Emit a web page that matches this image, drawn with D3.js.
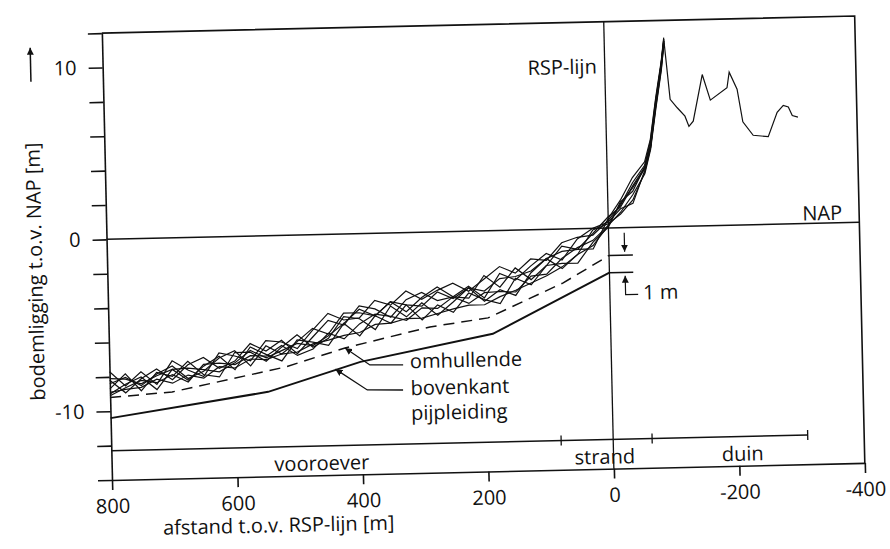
<!DOCTYPE html>
<html>
<head>
<meta charset="utf-8">
<script src="https://cdn.jsdelivr.net/npm/d3@7"></script>
<style>
  body { margin: 0; background: #fff; }
  svg { display: block; }
  text { font-family: "Open Sans", sans-serif; font-size: 20px; fill: #111; }
</style>
</head>
<body>
<svg id="chart" width="890" height="549"></svg>
<script>
// distances from the RSP line (m), positive seaward
const stations = [800, 775, 750, 725, 700, 675, 650, 625, 600, 575, 550, 525, 500, 475, 450, 425, 400,
  375, 350, 325, 300, 275, 250, 225, 200, 175, 150, 125, 100, 75, 50, 25, 0, -20, -40, -60, -70, -80, -90, -95];

// measured bottom profiles (m t.o.v. NAP)
const profileA = [-7.7, -8.55, -7.75, -8.5, -7.15, -7.7, -8.1, -6.75, -6.95, -7.25, -6.1, -6.2, -6.6, -5.55, -4.6, -5.0, -4.9,
  -3.9, -4.2, -3.4, -3.9, -3.4, -3.0, -3.5, -2.8, -2.1, -2.5, -1.7, -1.8, -0.8, -0.5, -0.4, 0.45, 1.3, 2.6, 3.6, 5.0, 7.4, 9.5, 10.9];
const profileB = [-8.7, -7.85, -8.85, -7.8, -8.05, -7.2, -8.0, -8.15, -6.75, -6.75, -7.3, -6.5, -5.8, -6.55, -6.05, -4.8, -4.95,
  -5.6, -4.25, -4.9, -4.1, -4.85, -4.1, -3.3, -4.1, -3.45, -3.8, -2.5, -1.7, -2.3, -1.5, -0.1, 0.25, 0.8, 1.6, 3.2, 4.6, 7.0, 9.2, 10.6];
const profileC = [-9.0, -8.45, -8.05, -8.8, -7.65, -8.3, -7.5, -6.95, -7.75, -6.45, -6.9, -7.3, -6.1, -6.25, -6.45, -5.2, -5.95,
  -4.8, -5.25, -4.2, -5.1, -4.25, -4.7, -3.6, -4.0, -4.25, -2.8, -3.2, -2.1, -2.0, -2.0, -0.8, 0.05, 1.5, 2.1, 3.5, 4.8, 7.3, 9.4, 10.8];
const profileD = [-8.9, -8.75, -8.65, -8.2, -8.45, -8.0, -8.2, -7.55, -7.65, -7.15, -7.2, -6.9, -6.8, -6.35, -6.15, -5.9, -5.75,
  -5.3, -5.25, -5.0, -5.0, -4.75, -4.5, -4.3, -4.3, -3.85, -3.5, -3.1, -2.7, -2.2, -1.5, -1.0, 0.15, 0.9, 1.9, 3.1, 4.5, 6.9, 9.1, 10.7];
const profileE = [-8.2, -8.95, -8.15, -7.6, -8.25, -7.4, -7.0, -7.65, -7.25, -6.25, -6.7, -6.1, -6.9, -5.95, -5.0, -5.3, -4.2,
  -4.4, -4.9, -3.9, -3.5, -4.0, -3.8, -3.9, -2.6, -3.3, -2.2, -2.9, -2.1, -1.0, -1.2, -1.2, 0.55, 1.6, 2.9, 3.8, 5.1, 7.5, 9.6, 11.0];
const profileF = [-8.4, -8.05, -8.55, -7.9, -7.45, -8.2, -7.8, -7.05, -6.65, -7.55, -6.4, -6.9, -6.2, -5.45, -5.8, -4.6, -4.6,
  -4.8, -4.0, -4.6, -3.8, -3.2, -3.8, -3.2, -3.9, -2.5, -2.9, -2.1, -1.4, -1.8, -0.6, 0.0, 0.35, 1.1, 1.4, 3.3, 4.7, 7.1, 9.3, 10.8];
const profileG = [-9.1, -8.65, -8.25, -8.4, -7.95, -8.4, -7.4, -7.35, -7.45, -6.95, -7.0, -6.4, -7.0, -6.65, -5.75, -6.1, -5.25,
  -4.7, -4.85, -5.1, -4.4, -4.45, -3.8, -4.2, -3.6, -3.55, -3.6, -2.7, -2.6, -1.7, -1.1, -0.7, 0.15, 1.4, 2.3, 3.4, 4.6, 7.2, 9.4, 10.7];
const profileH = [-8.1, -8.15, -8.45, -8.0, -7.65, -7.6, -7.7, -7.85, -7.35, -6.65, -7.1, -6.7, -6.3, -6.45, -5.9, -5.2, -4.4,
  -4.8, -4.0, -4.2, -4.3, -3.5, -3.9, -3.3, -3.5, -2.8, -2.7, -2.4, -1.7, -1.3, -1.2, -0.3, 0.65, 1.2, 2.4, 3.5, 4.7, 7.2, 9.5, 10.9];
const profiles = [profileA, profileB, profileC, profileD, profileE, profileF, profileG, profileH];

// profile H continues over the dunes
const duneX = [-103, -114, -126, -132, -139, -155, -167, -194, -198, -210, -218, -234, -258, -273, -283, -291, -297, -306];
const duneY = [7.4, 6.9, 6.4, 5.8, 6.1, 8.8, 7.3, 8.0, 8.9, 7.9, 6.0, 5.2, 5.1, 6.5, 6.9, 6.8, 6.3, 6.2];

// envelope (omhullende) and top of pipeline (bovenkant pijpleiding)
const envelopeX = [800, 701, 520, 424, 288, 195, 74, 0];
const envelopeY = [-9.2, -8.96, -7.66, -6.63, -5.52, -5.07, -3.13, -1.6];
const pipeX = [800, 548, 400, 188, 0];
const pipeY = [-10.4, -9.08, -7.46, -6.0, -2.6];

const xTicks = [800, 600, 400, 200, 0, -200, -400];
const xTickLabels = ["800", "600", "400", "200", "0", "-200", "-400"];
const yTicks = [-14, -12, -10, -8, -6, -4, -2, 0, 2, 4, 6, 8, 10, 12];
const yTickLabels = { "10": "10", "0": "0", "-10": "-10" };

const zoneBounds = [800, 83, -62, -310];
const zoneNames = ["vooroever", "strand", "duin"];
const zoneLabelX = [465, 14, -206];

const mLeft = 112, mRight = 865, mTop = 33, mBottom = 480;

const x = d3.scaleLinear().domain([800, -400]).range([mLeft, mRight]);
const y = d3.scaleLinear().domain([-14, 12]).range([mBottom, mTop]);

const svg = d3.select("#chart");

svg.append("defs").append("marker")
  .attr("id", "head")
  .attr("viewBox", "0 0 10 10")
  .attr("refX", 10).attr("refY", 5)
  .attr("markerWidth", 7).attr("markerHeight", 7)
  .attr("markerUnits", "userSpaceOnUse")
  .attr("orient", "auto")
  .append("path")
  .attr("d", "M0,0 L10,5 L0,10 Z")
  .attr("fill", "#111");

// the scan is tilted a little
const g = svg.append("g").attr("transform", `rotate(-1.3, ${mLeft}, ${mBottom})`);

// axes
const yAxis = g.append("g")
  .attr("transform", `translate(${mLeft},0)`)
  .call(d3.axisLeft(y).tickValues(yTicks).tickSize(14).tickSizeOuter(0).tickPadding(12)
    .tickFormat((d) => yTickLabels[d] || ""));
const xAxis = g.append("g")
  .attr("transform", `translate(0,${mBottom})`)
  .call(d3.axisBottom(x).tickValues(xTicks).tickSize(10).tickSizeOuter(0).tickPadding(9)
    .tickFormat((d, i) => xTickLabels[i]));

[yAxis, xAxis].forEach((a) => {
  a.selectAll("path, line").attr("stroke", "#111").attr("stroke-width", 1.6);
  a.selectAll("text").attr("font-size", 20).attr("font-family", "'Open Sans', sans-serif").attr("fill", "#111");
});

// frame top and right
g.append("path")
  .attr("d", d3.line()([[x(800), y(12)], [x(-400), y(12)], [x(-400), y(-14)]]))
  .attr("fill", "none").attr("stroke", "#111").attr("stroke-width", 1.6);

// NAP line and RSP line
g.append("line")
  .attr("x1", x(800)).attr("x2", x(-400)).attr("y1", y(0)).attr("y2", y(0))
  .attr("stroke", "#111").attr("stroke-width", 1.5);
g.append("line")
  .attr("x1", x(0)).attr("x2", x(0)).attr("y1", y(12)).attr("y2", y(-14))
  .attr("stroke", "#111").attr("stroke-width", 1.3);

// zones
g.append("line")
  .attr("x1", x(zoneBounds[0])).attr("x2", x(zoneBounds[zoneBounds.length - 1]))
  .attr("y1", y(-12.3)).attr("y2", y(-12.3))
  .attr("stroke", "#111").attr("stroke-width", 1.5);
g.selectAll(".zonetick")
  .data(zoneBounds.slice(1))
  .join("line")
  .attr("class", "zonetick")
  .attr("x1", (d) => x(d)).attr("x2", (d) => x(d))
  .attr("y1", y(-12.3) - 5).attr("y2", y(-12.3) + 5)
  .attr("stroke", "#111").attr("stroke-width", 1.3);
g.selectAll(".zonelabel")
  .data(zoneNames)
  .join("text")
  .attr("class", "zonelabel")
  .attr("x", (d, i) => x(zoneLabelX[i]))
  .attr("y", mBottom - 5)
  .attr("text-anchor", "middle")
  .text((d) => d);

// profiles
const line = d3.line().x((d) => x(d[0])).y((d) => y(d[1]));
g.selectAll(".profile")
  .data(profiles.map((p, k) => {
    const pts = stations.map((s, i) => [s, p[i]]);
    if (k === profiles.length - 1) duneX.forEach((s, i) => pts.push([s, duneY[i]]));
    return pts;
  }))
  .join("path")
  .attr("class", "profile")
  .attr("d", line)
  .attr("fill", "none")
  .attr("stroke", "#111")
  .attr("stroke-width", 1.2);

g.append("path")
  .attr("d", line(envelopeX.map((d, i) => [d, envelopeY[i]])))
  .attr("fill", "none").attr("stroke", "#111").attr("stroke-width", 1.5)
  .attr("stroke-dasharray", "11,7");
g.append("path")
  .attr("d", line(pipeX.map((d, i) => [d, pipeY[i]])))
  .attr("fill", "none").attr("stroke", "#111").attr("stroke-width", 2);

// 1 m marker
const markerX = [0, -38];
[envelopeY[envelopeY.length - 1], pipeY[pipeY.length - 1]].forEach((v) => {
  g.append("line")
    .attr("x1", x(markerX[0])).attr("x2", x(markerX[1])).attr("y1", y(v)).attr("y2", y(v))
    .attr("stroke", "#111").attr("stroke-width", 1.5);
});
g.append("line")
  .attr("x1", x(-25)).attr("x2", x(-25)).attr("y1", y(-0.3)).attr("y2", y(-1.4))
  .attr("stroke", "#111").attr("stroke-width", 1.2).attr("marker-end", "url(#head)");
g.append("path")
  .attr("d", line([[-45, -3.9], [-25, -3.9], [-25, -2.8]]))
  .attr("fill", "none").attr("stroke", "#111").attr("stroke-width", 1.2).attr("marker-end", "url(#head)");
g.append("text").attr("x", x(-53)).attr("y", y(-4.2)).text("1 m");

// callouts
const leaderEnvelope = [[332, -7.69], [385, -7.65], [424, -6.63]];
const leaderPipe = [[333, -9.15], [390, -9.1], [440, -7.85]];
[leaderEnvelope, leaderPipe].forEach((pts) => {
  g.append("path")
    .attr("d", line(pts))
    .attr("fill", "none").attr("stroke", "#111").attr("stroke-width", 1.3)
    .attr("marker-end", "url(#head)");
});
const callouts = ["omhullende", "bovenkant", "pijpleiding"];
const calloutY = [-7.9, -9.46, -10.91];
g.selectAll(".callout")
  .data(callouts)
  .join("text")
  .attr("class", "callout")
  .attr("x", x(321))
  .attr("y", (d, i) => y(calloutY[i]))
  .text((d) => d);

// labels
g.append("text").attr("x", x(0) - 8).attr("y", y(9.0)).attr("text-anchor", "end").text("RSP-lijn");
g.append("text").attr("x", x(-400) - 17).attr("y", y(0) - 3).attr("text-anchor", "end").text("NAP");

g.append("text").attr("x", mLeft + 50).attr("y", 536).text("afstand t.o.v. RSP-lijn [m]");
g.append("text")
  .attr("transform", `translate(47,270) rotate(-90)`)
  .attr("text-anchor", "middle")
  .text("bodemligging t.o.v. NAP [m]");
g.append("line")
  .attr("x1", 40).attr("x2", 40).attr("y1", 80).attr("y2", 46)
  .attr("stroke", "#111").attr("stroke-width", 1.5).attr("marker-end", "url(#head)");
</script>
</body>
</html>
